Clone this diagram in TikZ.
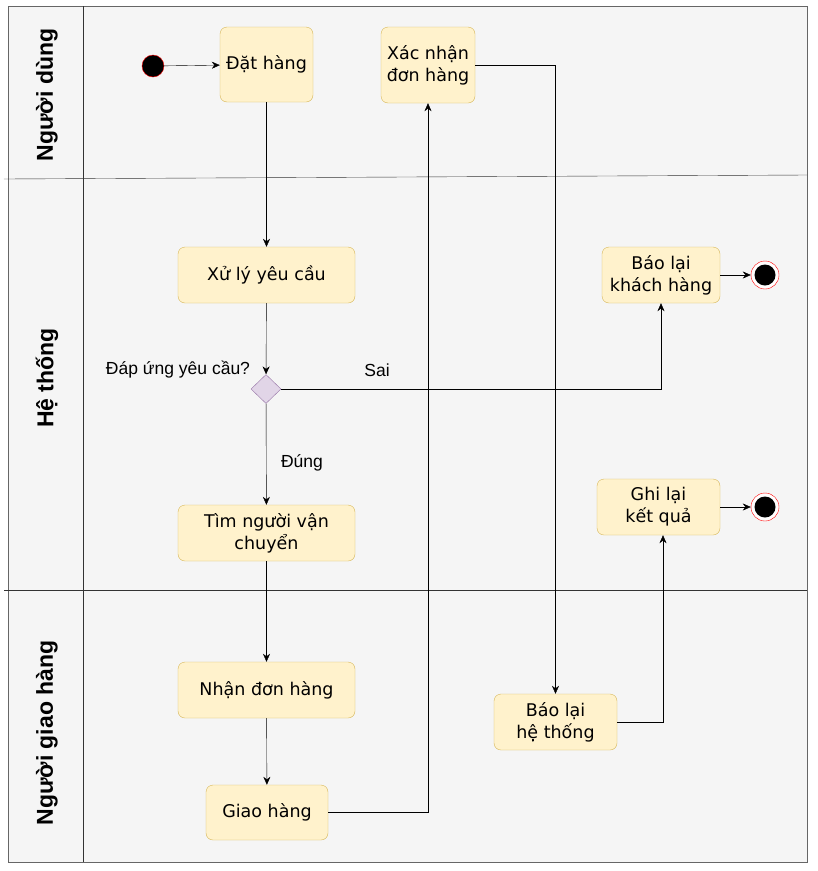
\documentclass[tikz,border=0pt]{standalone}
\usepackage{fontspec}
\setmainfont{DejaVu Sans}
\newfontfamily\arialf{Liberation Sans}
\usetikzlibrary{shapes.geometric,arrows.meta}
\definecolor{boxfill}{HTML}{FFF2CC}
\definecolor{boxdraw}{HTML}{D6B656}
\definecolor{dfill}{HTML}{E1D5E7}
\definecolor{ddraw}{HTML}{9673A6}
\definecolor{bgfill}{HTML}{F5F5F5}
\definecolor{bgdraw}{HTML}{666666}
\tikzset{
  actbox/.style={draw=boxdraw, fill=boxfill, rounded corners=7pt, align=center, font=\fontsize{17.5}{22}\selectfont, inner sep=0pt},
  startnode/.style={circle, draw=red, fill=black, minimum size=22pt, inner sep=0pt},
  endnode/.style={circle, draw=red, fill=white, minimum size=28pt, inner sep=0pt, path picture={\fill[black] (path picture bounding box.center) circle (10.5pt);}},
  decision/.style={diamond, draw=ddraw, fill=dfill, minimum width=30pt, minimum height=29pt, inner sep=0pt, aspect=1},
  flow/.style={-{Stealth[length=8pt,width=7pt]}, black},
  lanelabel/.style={rotate=90, font=\arialf\bfseries\fontsize{23}{27}\selectfont},
  txtlabel/.style={font=\arialf\fontsize{17.5}{21}\selectfont},
}
\begin{document}
\begin{tikzpicture}[x=1pt,y=-1pt]
\useasboundingbox (0,0) rectangle (818,871);
\draw[bgdraw, fill=bgfill, line width=1pt] (8,6) rectangle (807,862);
\draw[black!80] (83,6) -- (83,862);
\draw[black!80] (4,179) -- (807,175);
\draw[black!80] (4,590) -- (807,590);
\node[lanelabel] (l1) at (47,95) {Người dùng};
\node[lanelabel] (l2) at (47,378) {Hệ thống};
\node[lanelabel] (l3) at (47,733) {Người giao hàng};

\node[startnode] (s) at (153,66) {};
\node[actbox, minimum width=93pt, minimum height=75pt] (dh) at (266.5,64.5) {Đặt hàng};
\node[actbox, minimum width=94pt, minimum height=76pt] (xn) at (428,65) {Xác nhận\\đơn hàng};
\node[actbox, minimum width=177pt, minimum height=56pt] (xl) at (266.5,275) {Xử lý yêu cầu};
\node[actbox, minimum width=118pt, minimum height=56pt] (bk) at (661,275) {Báo lại\\khách hàng};
\node[endnode] (e1) at (765,275) {};
\node[decision] (d) at (266,389) {};
\node[txtlabel] (ld) at (178,370) {Đáp ứng yêu cầu?};
\node[txtlabel] (ls) at (377,370) {Sai};
\node[txtlabel] (lu) at (302,463) {Đúng};
\node[actbox, minimum width=177pt, minimum height=56pt] (tn) at (266.5,533) {Tìm người vận\\chuyển};
\node[actbox, minimum width=123pt, minimum height=56pt] (gl) at (658.5,507) {Ghi lại\\kết quả};
\node[endnode] (e2) at (765,507) {};
\node[actbox, minimum width=177pt, minimum height=56pt] (nd) at (266.5,690) {Nhận đơn hàng};
\node[actbox, minimum width=122pt, minimum height=55pt] (gh) at (267,812.5) {Giao hàng};
\node[actbox, minimum width=123pt, minimum height=56pt] (bh) at (555.5,722) {Báo lại\\hệ thống};

\draw[flow] (s) -- (dh);
\draw[flow] (dh) -- (xl);
\draw[flow] (xl) -- (d);
\draw[flow] (d) -- (tn);
\draw[flow] (d.east) -| (bk.south);
\draw[flow] (bk) -- (e1);
\draw[flow] (tn) -- (nd);
\draw[flow] (nd) -- (gh);
\draw[flow] (gh.east) -| (xn.south);
\draw[flow] (xn.east) -| (bh.north);
\draw[flow] (bh.east) -| ([xshift=4.5pt]gl.south);
\draw[flow] (gl) -- (e2);
\end{tikzpicture}
\end{document}
